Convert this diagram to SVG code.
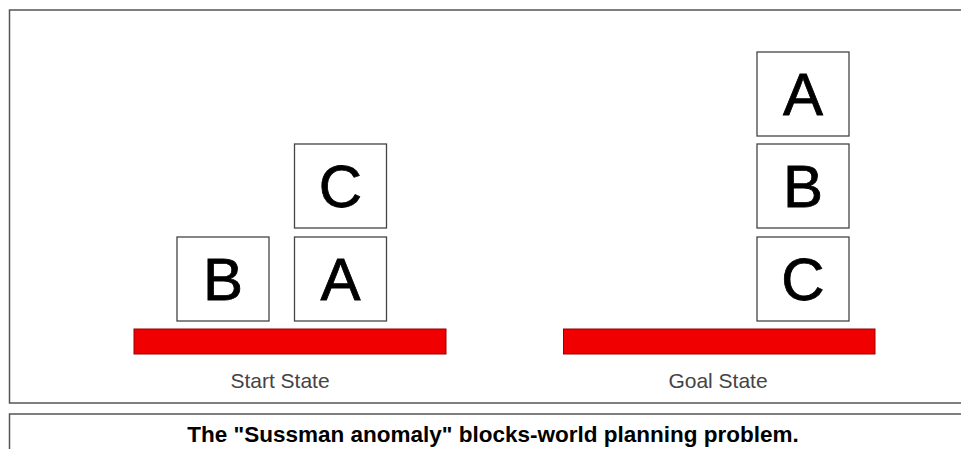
<svg xmlns="http://www.w3.org/2000/svg" width="961" height="449" viewBox="0 0 961 449">
<style>
.frame{fill:none;stroke:#555;stroke-width:1.5}
.block rect{fill:#fff;stroke:#444;stroke-width:1.3}
.block text{font-family:"Liberation Sans",Arial,sans-serif;font-size:60px;fill:#000;stroke:#000;stroke-width:0.8;text-anchor:middle}
.table{fill:#f00000;stroke:#900;stroke-width:1}
.label{font-family:"Liberation Sans",Arial,sans-serif;font-size:21px;fill:#444;text-anchor:middle}
.caption{font-family:"Liberation Sans",Arial,sans-serif;font-size:22.5px;font-weight:bold;fill:#000;text-anchor:middle}
</style>
<rect width="961" height="449" fill="#fff"/>
<rect class="frame" x="9.5" y="10" width="960" height="393"/>
<rect class="frame" x="9.5" y="414" width="960" height="60"/>
<g id="start">
  <rect id="table-start" class="table" x="134" y="329" width="312" height="25"/>
  <g id="start-B" class="block"><rect x="177" y="237" width="92" height="84"/><text x="223" y="300">B</text></g>
  <g id="start-A" class="block"><rect x="294.5" y="237" width="92" height="84"/><text x="340.5" y="300">A</text></g>
  <g id="start-C" class="block"><rect x="294.5" y="144" width="92" height="84"/><text x="340.5" y="207">C</text></g>
  <text class="label" x="280" y="388">Start State</text>
</g>
<g id="goal">
  <rect id="table-goal" class="table" x="563.5" y="329" width="311.5" height="25"/>
  <g id="goal-A" class="block"><rect x="757" y="52" width="92" height="84"/><text x="803" y="115">A</text></g>
  <g id="goal-B" class="block"><rect x="757" y="144" width="92" height="84"/><text x="803" y="207">B</text></g>
  <g id="goal-C" class="block"><rect x="757" y="237" width="92" height="84"/><text x="803" y="300">C</text></g>
  <text class="label" x="718" y="388">Goal State</text>
</g>
<g id="connectors"></g>
<text class="caption" x="493" y="442">The "Sussman anomaly" blocks-world planning problem.</text>
</svg>
